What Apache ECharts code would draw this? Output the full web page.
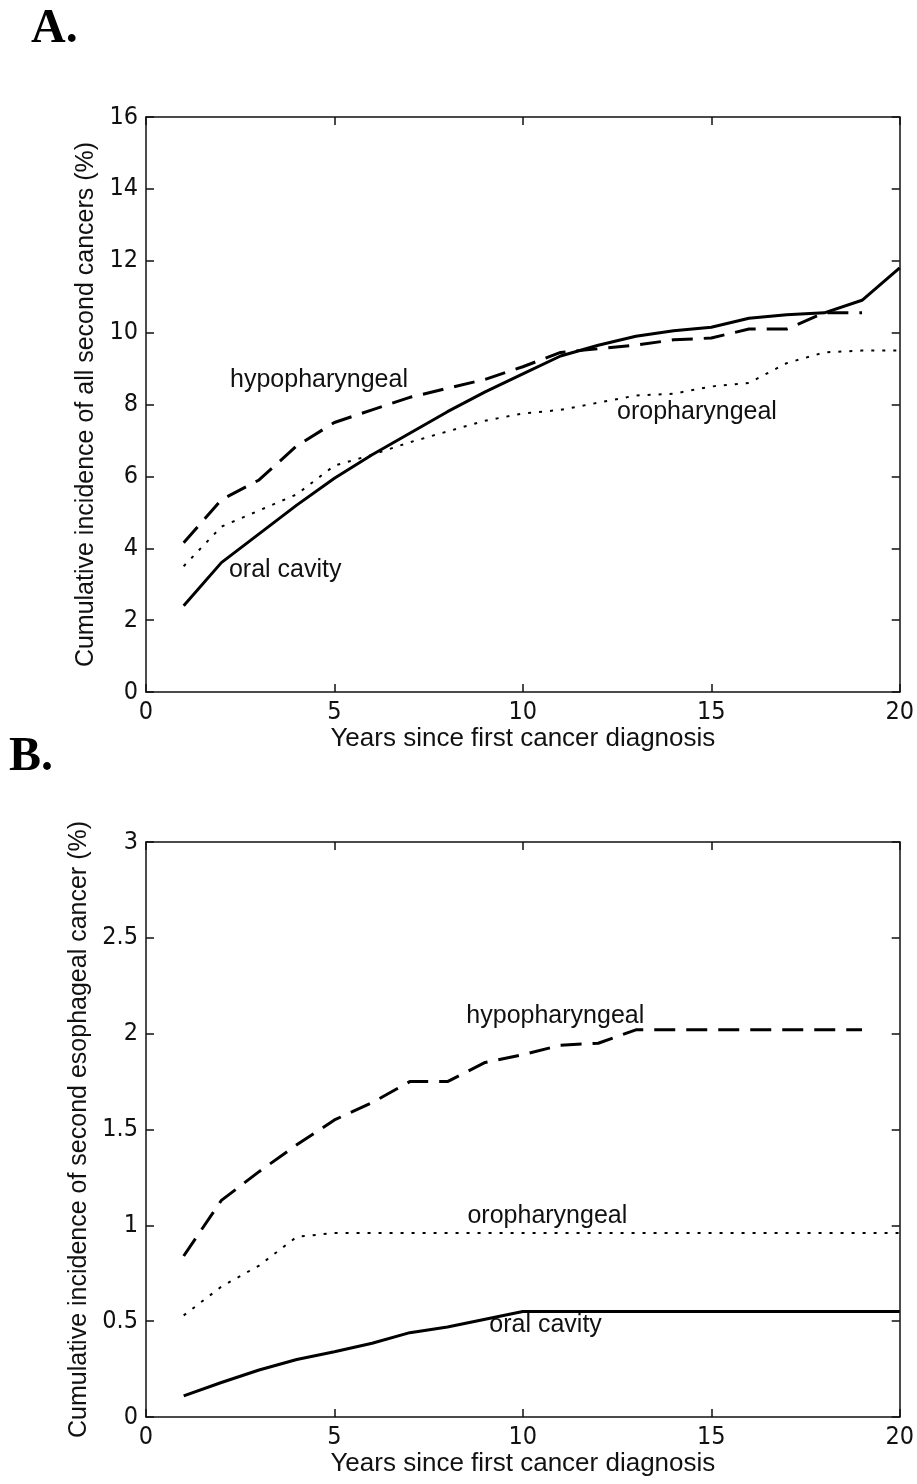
<!DOCTYPE html>
<html>
<head>
<meta charset="utf-8">
<script src="https://cdn.jsdelivr.net/npm/echarts@6/dist/echarts.min.js"></script>
<style>
  html, body { margin: 0; padding: 0; background: #fff; }
  #main { width: 917px; height: 1484px; }
</style>
</head>
<body>
<div id="main"></div>
<script>
// years since diagnosis
var years = [1, 2, 3, 4, 5, 6, 7, 8, 9, 10, 11, 12, 13, 14, 15, 16, 17, 18, 19, 20];

// panel A: all second cancers (%)
var allOral = [2.4, 3.6, 4.4, 5.2, 5.95, 6.6, 7.2, 7.8, 8.35, 8.85, 9.35, 9.65, 9.9, 10.05, 10.15, 10.4, 10.5, 10.55, 10.9, 11.8];
var allHypo = [4.15, 5.35, 5.9, 6.85, 7.5, 7.85, 8.2, 8.45, 8.7, 9.05, 9.45, 9.55, 9.65, 9.8, 9.85, 10.1, 10.1, 10.55, 10.55];
var allOro = [3.5, 4.6, 5.05, 5.5, 6.3, 6.6, 6.95, 7.25, 7.55, 7.75, 7.85, 8.05, 8.25, 8.3, 8.5, 8.6, 9.15, 9.45, 9.5, 9.5];

// panel B: second esophageal cancer (%)
var escOral = [0.11, 0.18, 0.245, 0.3, 0.34, 0.385, 0.44, 0.47, 0.51, 0.55, 0.55, 0.55, 0.55, 0.55, 0.55, 0.55, 0.55, 0.55, 0.55, 0.55];
var escHypo = [0.84, 1.13, 1.28, 1.42, 1.55, 1.64, 1.75, 1.75, 1.85, 1.89, 1.94, 1.95, 2.02, 2.02, 2.02, 2.02, 2.02, 2.02, 2.02];
var escOro = [0.53, 0.68, 0.79, 0.94, 0.96, 0.96, 0.96, 0.96, 0.96, 0.96, 0.96, 0.96, 0.96, 0.96, 0.96, 0.96, 0.96, 0.96, 0.96, 0.96];

// curve labels [x, y, text]
var labelsA = [[2.23, 8.67, 'hypopharyngeal'], [2.2, 3.39, 'oral cavity'], [12.5, 7.78, 'oropharyngeal']];
var labelsB = [[8.5, 2.09, 'hypopharyngeal'], [8.53, 1.05, 'oropharyngeal'], [9.11, 0.48, 'oral cavity']];

var narrow = '"Liberation Sans Narrow", "DejaVu Sans Condensed", "Liberation Sans", sans-serif';
var sans = '"Liberation Sans", Arial, sans-serif';
var serif = '"Liberation Serif", "DejaVu Serif", serif';
var ink = '#111';

function pairs(ys) {
    return ys.map(function (v, i) { return [years[i], v]; });
}

function xAxes(gi) {
    var base = {
        type: 'value', gridIndex: gi, min: 0, max: 20, interval: 5,
        splitLine: { show: false },
        axisLine: { onZero: false, lineStyle: { color: ink, width: 1.5 } },
        axisTick: { inside: true, length: 8, lineStyle: { color: ink, width: 1.5 } }
    };
    return [
        Object.assign({}, base, {
            position: 'bottom',
            name: 'Years since first cancer diagnosis',
            nameLocation: 'middle', nameGap: 31,
            nameTextStyle: { fontFamily: sans, fontSize: 26, color: ink },
            axisLabel: { fontFamily: narrow, fontSize: 25, color: ink, margin: 8 }
        }),
        Object.assign({}, base, { position: 'top', axisLabel: { show: false } })
    ];
}

function yAxes(gi, max, step, name) {
    var base = {
        type: 'value', gridIndex: gi, min: 0, max: max, interval: step,
        splitLine: { show: false },
        axisLine: { onZero: false, lineStyle: { color: ink, width: 1.5 } },
        axisTick: { inside: true, length: 8, lineStyle: { color: ink, width: 1.5 } }
    };
    return [
        Object.assign({}, base, {
            position: 'left',
            name: name, nameLocation: 'middle', nameGap: 45,
            nameTextStyle: { fontFamily: sans, fontSize: 25, color: ink },
            axisLabel: { fontFamily: narrow, fontSize: 25, color: ink, margin: 8 }
        }),
        Object.assign({}, base, { position: 'right', axisLabel: { show: false } })
    ];
}

function line(idx, ys, type) {
    var style = { color: '#000', width: 3, type: 'solid' };
    if (type === 'dashed') { style.type = [21, 11]; }
    if (type === 'dotted') { style.type = [3, 8]; style.width = 2; }
    return {
        type: 'line', xAxisIndex: idx, yAxisIndex: idx,
        data: pairs(ys), showSymbol: false, symbol: 'none',
        lineStyle: style, silent: true, animation: false
    };
}

function labels(idx, arr) {
    return {
        type: 'scatter', xAxisIndex: idx, yAxisIndex: idx,
        symbolSize: 0, silent: true, animation: false,
        itemStyle: { opacity: 1 },
        data: arr.map(function (d) { return { value: [d[0], d[1]], name: d[2] }; }),
        label: {
            show: true, position: 'right', distance: 0, opacity: 1,
            formatter: '{b}', fontFamily: sans, fontSize: 25, color: ink
        }
    };
}

var chart = echarts.init(document.getElementById('main'));
chart.setOption({
    backgroundColor: '#fff',
    animation: false,
    title: [
        { text: 'A.', left: 26, top: 1, textStyle: { fontFamily: serif, fontWeight: 'bold', fontSize: 48, color: '#000' } },
        { text: 'B.', left: 4, top: 729, textStyle: { fontFamily: serif, fontWeight: 'bold', fontSize: 48, color: '#000' } }
    ],
    grid: [
        { left: 146, top: 117, width: 755, height: 575 },
        { left: 146, top: 842, width: 755, height: 575 }
    ],
    xAxis: xAxes(0).concat(xAxes(1)),
    yAxis: yAxes(0, 16, 2, 'Cumulative incidence of all second cancers (%)')
        .concat(yAxes(1, 3, 0.5, 'Cumulative incidence of second esophageal cancer (%)')),
    series: [
        line(0, allOral, 'solid'),
        line(0, allHypo, 'dashed'),
        line(0, allOro, 'dotted'),
        labels(0, labelsA),
        line(2, escOral, 'solid'),
        line(2, escHypo, 'dashed'),
        line(2, escOro, 'dotted'),
        labels(2, labelsB)
    ]
});
</script>
</body>
</html>
